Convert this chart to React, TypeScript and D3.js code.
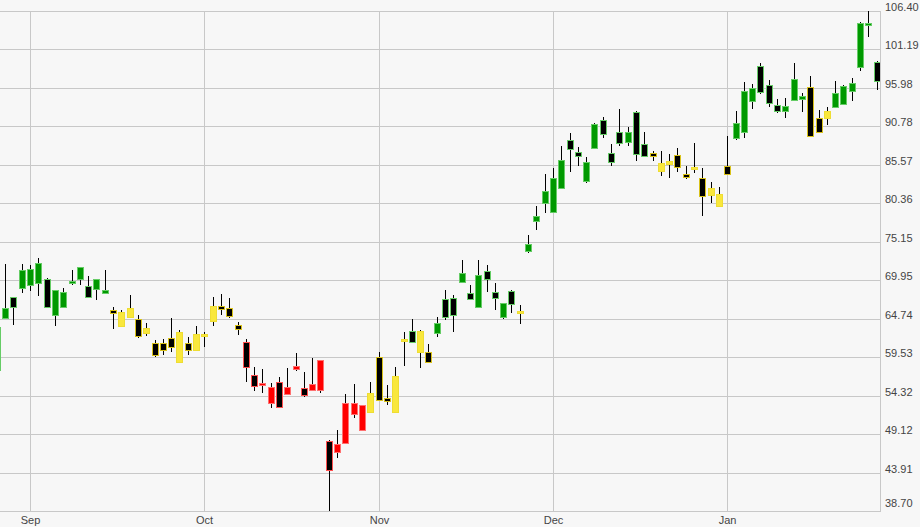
import React from "react";
import * as d3 from "d3";

const opens = [57.79,64.83,67.68,68.89,69.30,69.57,70.11,65.24,66.32,69.57,70.11,69.17,68.76,68.26,65.92,63.75,64.97,64.70,62.80,61.45,61.45,62.12,58.88,61.45,60.50,62.40,64.43,66.46,66.19,63.88,61.58,57.11,55.76,53.32,56.17,54.54,57.93,55.35,55.08,55.08,48.18,46.69,47.91,51.83,49.67,52.11,59.55,54.00,52.11,61.72,63.07,60.23,60.23,62.80,67.41,67.54,69.71,68.22,66.32,71.20,68.35,64.97,68.49,65.51,73.90,77.97,80.40,79.19,82.43,88.93,87.31,83.38,87.85,91.64,87.17,90.02,88.66,92.73,88.39,87.17,84.74,85.68,86.90,84.33,85.01,83.79,81.49,80.00,85.41,89.20,90.02,94.21,98.95,96.38,93.67,92.86,94.35,94.49,96.11,91.91,91.91,93.40,93.81,95.57,98.82,104.50,99.49];
const highs = [63.89,72.14,67.72,72.14,72.01,72.96,70.25,68.62,68.89,71.33,71.74,70.52,70.11,71.33,66.32,65.92,67.95,65.24,64.16,61.85,61.99,64.83,63.21,62.26,63.75,62.94,67.68,68.08,67.54,64.29,61.99,58.20,57.93,56.03,56.84,58.06,60.09,57.52,59.42,59.20,48.25,49.67,54.54,55.90,53.10,56.17,60.23,55.76,58.20,62.94,64.70,63.21,61.31,64.97,68.62,67.95,72.69,69.30,72.69,72.01,69.57,66.90,68.62,66.59,76.07,80.00,84.33,85.14,88.12,89.88,87.99,86.63,91.20,92.05,88.39,93.13,90.69,92.86,90.02,87.44,87.44,87.04,87.85,85.41,88.53,85.14,83.25,82.57,89.47,92.86,96.79,96.52,99.36,97.06,94.49,94.62,99.36,95.30,97.60,93.00,93.40,96.92,96.40,97.33,104.91,106.40,99.63];
const lows = [57.52,64.70,63.88,68.22,68.49,67.81,66.19,63.75,66.20,69.30,69.30,67.60,67.27,68.08,63.34,63.70,64.83,62.12,62.40,59.55,59.82,60.23,58.85,59.82,60.36,60.89,63.75,65.24,64.83,62.53,56.17,54.95,54.68,52.65,52.65,54.41,57.66,54.14,54.95,54.68,38.70,45.88,47.85,51.29,49.60,52.05,53.65,53.05,52.05,58.33,61.45,58.06,58.74,62.26,64.56,62.94,69.65,67.27,66.28,68.35,65.92,64.70,65.51,64.02,73.63,76.75,79.05,79.05,82.40,84.60,85.41,83.11,87.80,89.20,85.41,88.12,88.12,86.09,86.63,86.09,84.06,83.79,84.60,83.65,84.47,78.64,80.40,79.86,84.20,88.93,89.20,93.13,95.16,93.40,92.59,91.91,94.30,92.73,89.34,89.95,90.96,93.35,93.75,94.21,98.28,102.88,95.70];
const closes = [63.61,66.19,66.32,71.33,71.47,72.28,66.32,68.62,68.35,69.84,71.70,67.68,70.05,68.62,65.51,65.65,66.19,62.40,63.48,59.82,60.50,60.91,62.94,60.50,62.67,62.67,66.46,66.05,65.10,63.38,58.20,55.63,56.03,55.49,52.78,55.49,58.33,54.41,55.90,59.15,44.25,47.77,53.32,53.32,53.05,54.68,53.73,53.60,57.02,61.99,61.58,63.07,58.88,64.16,64.97,65.24,70.93,67.41,70.65,70.11,67.54,66.86,66.73,65.78,74.85,78.64,82.03,83.79,86.23,87.72,86.77,85.96,91.10,89.75,85.96,88.53,90.02,87.04,86.77,86.77,85.82,86.09,85.28,83.92,85.28,81.35,82.43,81.62,84.33,91.24,95.57,95.98,95.43,93.94,92.86,93.54,97.19,94.89,89.47,90.02,92.86,95.30,96.25,96.65,104.78,104.78,96.92];
const regimes = "gggggggggggggg" + "yyyyyyyyyyyyyyyy" + "rrrrrrrrrrrrrrr" + "yyyyy" + "g" + "yy" + "gggggggggg" + "y" + "ggggggggggggggg" + "yyyyyyyyyy" + "ggggggggg" + "yyy" + "gggggg";

const monthLabels = ["Sep", "Oct", "Nov", "Dec", "Jan"];
const monthStartIndex = [4, 25, 46, 67, 88];
const yTickLabels = ["106.40","101.19","95.98","90.78","85.57","80.36","75.15","69.95","64.74","59.53","54.32","49.12","43.91","38.70"];

const W = 920;
const H = 527;
const plotRight = 880;
const plotTop = 11;
const plotBottom = 511;

const palette: Record<string, { fill: string; stroke: string; downStroke: string }> = {
  g: { fill: "#009900", stroke: "#66cc66", downStroke: "#66cc66" },
  y: { fill: "#f9e73c", stroke: "#eedd33", downStroke: "#d9c21a" },
  r: { fill: "#ff0000", stroke: "#ff7070", downStroke: "#ff5050" },
};

export default function App() {
  const x = d3.scaleLinear().domain([0, 106]).range([-3.2, 876.6]);
  const y = d3.scaleLinear().domain([38.7, 106.4]).range([plotBottom, plotTop]);
  const yTicks = yTickLabels.map((s) => +s);
  const font = "'Liberation Sans', Arial, sans-serif";

  return (
    <svg width={W} height={H} style={{ position: "fixed", left: 0, top: 0, display: "block" }}>
      <defs>
        <clipPath id="plotClip">
          <rect x={0} y={0} width={plotRight} height={plotBottom + 1} />
        </clipPath>
      </defs>
      <rect x={0} y={0} width={W} height={H} fill="#f7f7f7" />
      {yTicks.map((v, i) => {
        const yy = Math.round(y(v)) + 0.5;
        return (
          <line key={"h" + i} x1={0} x2={plotRight + 0.5} y1={yy} y2={yy} stroke="#c8c8c8" strokeWidth={1} />
        );
      })}
      {monthStartIndex.map((idx, i) => {
        const xx = Math.round(x(idx)) + 0.5;
        return (
          <line key={"v" + i} x1={xx} x2={xx} y1={plotTop} y2={plotBottom} stroke="#c8c8c8" strokeWidth={1} />
        );
      })}
      <line x1={plotRight + 0.5} x2={plotRight + 0.5} y1={plotTop} y2={plotBottom + 1} stroke="#c8c8c8" strokeWidth={1} />
      <g clipPath="url(#plotClip)">
        {opens.map((o, i) => {
          const c = closes[i];
          const hi = highs[i];
          const lo = lows[i];
          const up = c >= o;
          const col = palette[regimes[i]] || palette.g;
          const cx = Math.round(x(i)) + 0.5;
          const top = Math.round(y(Math.max(o, c)));
          const bot = Math.round(y(Math.min(o, c)));
          const h = Math.max(bot - top, 1);
          return (
            <g key={"c" + i}>
              <line x1={cx} x2={cx} y1={Math.round(y(hi))} y2={Math.round(y(lo))} stroke="#000" strokeWidth={1} />
              <rect
                x={cx - 3}
                y={top + 0.5}
                width={6}
                height={h}
                fill={up ? col.fill : "#000"}
                stroke={up ? col.stroke : col.downStroke}
                strokeWidth={1}
              />
            </g>
          );
        })}
      </g>
      {yTickLabels.map((s, i) => {
        const yy = Math.round(y(+s)) + (i === yTickLabels.length - 1 ? -4 : 0);
        return (
          <text key={"yl" + i} x={885} y={yy} fontFamily={font} fontSize={11} fill="#444">
            {s}
          </text>
        );
      })}
      {monthStartIndex.map((idx, i) => (
        <text key={"ml" + i} x={Math.round(x(idx)) + 0.5} y={524} fontFamily={font} fontSize={11} fill="#444" textAnchor="middle">
          {monthLabels[i]}
        </text>
      ))}
    </svg>
  );
}
